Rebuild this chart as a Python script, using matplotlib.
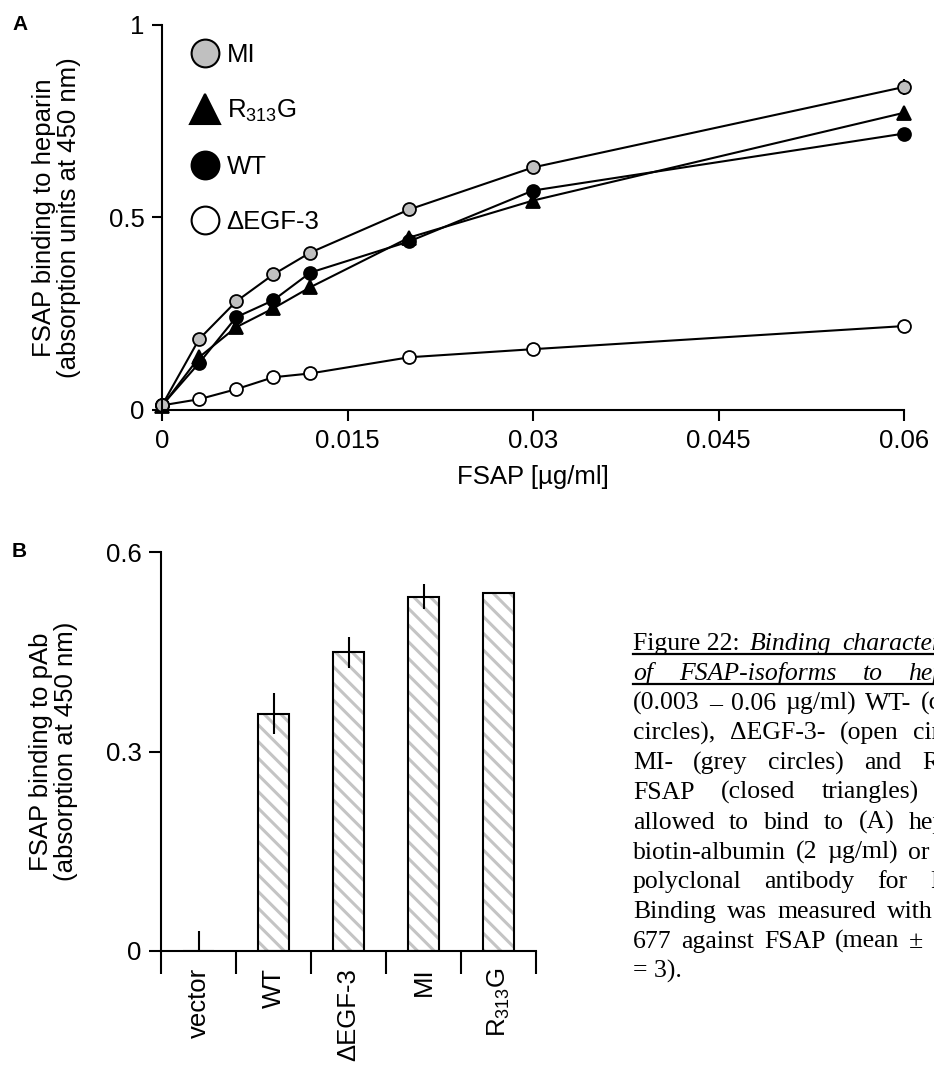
import matplotlib
matplotlib.use("Agg")
import matplotlib.pyplot as plt
from matplotlib.lines import Line2D
from matplotlib.transforms import IdentityTransform

plt.rcParams['font.family'] = ['Liberation Sans', 'DejaVu Sans']
plt.rcParams['mathtext.default'] = 'regular'
plt.rcParams['hatch.linewidth'] = 2.2

FIG_W, FIG_H, DPI = 934, 1068, 100
FS = 18.5      # axis text
CAP_FS = 18.5  # caption text

# --- panel A: binding to heparin ---
conc = [0, 0.003, 0.006, 0.009, 0.012, 0.02, 0.03, 0.06]
mi = [0.012, 0.184, 0.282, 0.352, 0.409, 0.521, 0.630, 0.839]
mi_err = [0, 0, 0, 0, 0, 0, 0, 0.022]
r313g = [0.010, 0.137, 0.215, 0.264, 0.319, 0.448, 0.544, 0.772]
wt = [0.012, 0.122, 0.241, 0.285, 0.357, 0.438, 0.570, 0.718]
degf3 = [0.012, 0.028, 0.054, 0.085, 0.095, 0.137, 0.158, 0.218]

a_xticks = [0, 0.015, 0.03, 0.045, 0.06]
a_xticklabels = ['0', '0.015', '0.03', '0.045', '0.06']
a_yticks = [0, 0.5, 1]
a_yticklabels = ['0', '0.5', '1']

# --- panel B: binding to pAb ---
b_labels = ['vector', 'WT', 'ΔEGF-3', 'MI', 'R$_{313}$G']
b_values = [0.0, 0.357, 0.449, 0.533, 0.539]
b_err = [0.030, 0.031, 0.023, 0.019, 0.0]
b_yticks = [0, 0.3, 0.6]
b_yticklabels = ['0', '0.3', '0.6']

caption_lines = [
    [("Figure 22:", "normal"), ("Binding", "italic"), ("characteristics", "italic")],
    [("of", "italic"), ("FSAP-isoforms", "italic"), ("to", "italic"), ("heparin.", "italic")],
    "(0.003 – 0.06 µg/ml) WT- (closed",
    "circles), ΔEGF-3- (open circles),",
    "MI- (grey circles) and R$_{313}$G-",
    "FSAP (closed triangles) were",
    "allowed to bind to (A) heparin-",
    "biotin-albumin (2 µg/ml) or (B) a",
    "polyclonal antibody for FSAP.",
    "Binding was measured with mAb",
    "677 against FSAP (mean ± SD, n",
    "= 3).",
]

fig = plt.figure(figsize=(FIG_W / DPI, FIG_H / DPI), dpi=DPI)


def add_axes_px(left, top, right, bottom):
    return fig.add_axes([left / FIG_W, 1 - bottom / FIG_H,
                         (right - left) / FIG_W, (bottom - top) / FIG_H])


def style_axes(ax):
    for s in ['top', 'right']:
        ax.spines[s].set_visible(False)
    for s in ['left', 'bottom']:
        ax.spines[s].set_linewidth(1.5)
    ax.tick_params(width=1.5, labelsize=FS, direction='out')


# ---------- panel A ----------
axA = add_axes_px(162, 25, 904, 410)
style_axes(axA)
series = [
    (degf3, None, 'o', 'white', 9.3, 'ΔEGF-3'),
    (wt, None, 'o', 'black', 9.3, 'WT'),
    (r313g, None, '^', 'black', 10.5, 'R$_{313}$G'),
    (mi, mi_err, 'o', '#c0c0c0', 9.3, 'MI'),
]
handles = {}
for vals, err, mk, fc, ms, lab in series:
    cont = axA.errorbar(conc, vals, yerr=err, color='black', lw=1.5, marker=mk,
                        ms=ms, mfc=fc, mec='black', mew=1.3, capsize=0,
                        elinewidth=1.5)
    for art in cont.get_children():
        art.set_clip_on(False)
    handles[lab] = Line2D([], [], ls='none', marker=mk, ms=21.5 if mk == '^' else 20,
                          mfc=fc, mec='black', mew=1.5)

axA.set_xlim(0, 0.06)
axA.set_ylim(0, 1)
axA.set_xticks(a_xticks, a_xticklabels)
axA.set_yticks(a_yticks, a_yticklabels)
axA.tick_params(axis='x', length=8, pad=6)
axA.tick_params(axis='y', length=7.5, pad=5)
axA.set_xlabel('FSAP [µg/ml]', fontsize=FS, labelpad=8)
axA.set_ylabel('FSAP binding to heparin\n(absorption units at 450 nm)', fontsize=FS,
               labelpad=20, linespacing=1.05)
order = ['MI', 'R$_{313}$G', 'WT', 'ΔEGF-3']
axA.legend([handles[k] for k in order], order, loc='upper left',
           bbox_to_anchor=(0.0387, 0.953), frameon=False, borderpad=0,
           borderaxespad=0, handlelength=1.1, handletextpad=0.3,
           labelspacing=1.2, fontsize=FS)

# ---------- panel B ----------
axB = add_axes_px(161, 552, 536, 951)
style_axes(axB)
pos = list(range(len(b_labels)))
axB.bar(pos, b_values, width=0.41, color='white', edgecolor='#c4c4c4',
        hatch='\\\\', linewidth=0)
axB.bar(pos, b_values, width=0.41, fill=False, edgecolor='black', linewidth=1.5)
axB.errorbar(pos, b_values, yerr=b_err, fmt='none', ecolor='black',
             elinewidth=1.5, capsize=0)
axB.set_xlim(-0.5, len(b_labels) - 0.5)
axB.set_ylim(0, 0.6)
axB.set_yticks(b_yticks, b_yticklabels)
axB.set_xticks(pos, b_labels, rotation=90)
axB.set_xticks([p - 0.5 for p in pos] + [len(pos) - 0.5], minor=True)
axB.tick_params(axis='x', which='major', length=0, pad=12)
axB.tick_params(axis='x', which='minor', length=16.5, width=1.5)
axB.tick_params(axis='y', length=9, pad=5)
axB.set_ylabel('FSAP binding to pAb\n(absorption at 450 nm)', fontsize=FS,
               labelpad=20, linespacing=1.05)

fig.text(12 / FIG_W, 1 - 30 / FIG_H, 'A', fontsize=15, fontweight='bold')
fig.text(12 / FIG_W, 1 - 557 / FIG_H, 'B', fontsize=15, fontweight='bold')

# ---------- caption (justified, runs off the right edge) ----------
renderer = fig.canvas.get_renderer()
CAP_X0, CAP_W, CAP_Y0, CAP_DY = 633, 362, 650, 29.8
for i, line in enumerate(caption_lines):
    words = line if isinstance(line, list) else [(w, 'normal') for w in line.split(' ')]
    justify = i < len(caption_lines) - 1
    if not justify:
        words = [(line, 'normal')]
    base = FIG_H - (CAP_Y0 + i * CAP_DY)
    arts = [fig.text(0, 0, w, transform=IdentityTransform(), fontsize=CAP_FS,
                     family=['Liberation Serif', 'DejaVu Serif'], fontstyle=st,
                     va='baseline', ha='left') for w, st in words]
    widths = [t.get_window_extent(renderer).width for t in arts]
    gap = (CAP_W - sum(widths)) / (len(arts) - 1) if justify and len(arts) > 1 else 0
    x = CAP_X0
    for t, w in zip(arts, widths):
        t.set_position((x, base))
        x += w + gap
    if i < 2:
        fig.add_artist(Line2D([CAP_X0, CAP_X0 + CAP_W], [base - 4, base - 4],
                              transform=IdentityTransform(), color='black', lw=1.6))

fig.savefig('out.png', dpi=DPI)
